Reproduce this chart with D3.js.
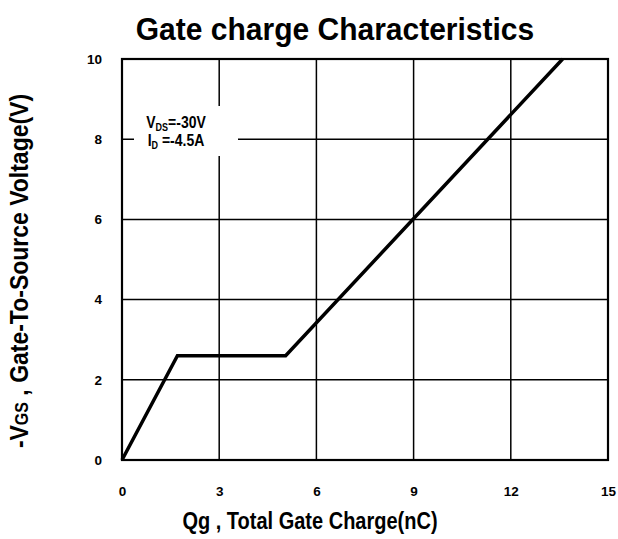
<!DOCTYPE html>
<html><head><meta charset="utf-8">
<script src="https://cdn.jsdelivr.net/npm/d3@7"></script>
<style>body{margin:0;background:#fff;}svg{display:block;font-family:"Liberation Sans",Arial,sans-serif;font-weight:bold;}</style>
</head><body>
<svg id="c" width="618" height="539"></svg>
<script>
const qg = [0, 1.71, 5.05, 13.6];
const vgs = [0, 2.6, 2.6, 10];
const xTicks = [0, 3, 6, 9, 12, 15];
const yTicks = [0, 2, 4, 6, 8, 10];

const svg = d3.select("#c");
const L = 122, R = 608, T = 59, B = 460;
const x = d3.scaleLinear().domain([0, 15]).range([L, R]);
const y = d3.scaleLinear().domain([0, 10]).range([B, T]);

// grid
const g = svg.append("g");
g.selectAll(".vx").data(xTicks.slice(1, -1)).enter().append("line")
  .attr("x1", d => x(d)).attr("x2", d => x(d)).attr("y1", T).attr("y2", B)
  .attr("stroke", "#000").attr("stroke-width", 1.5);
g.selectAll(".hy").data(yTicks.slice(1, -1)).enter().append("line")
  .attr("y1", d => y(d)).attr("y2", d => y(d)).attr("x1", L).attr("x2", R)
  .attr("stroke", "#000").attr("stroke-width", 1.5);

// annotation box
svg.append("rect").attr("x", 134).attr("y", 106).attr("width", 104).attr("height", 50).attr("fill", "#fff");
const a1 = svg.append("text").attr("transform", "translate(176,128) scale(1,1.12)").attr("text-anchor", "middle").attr("font-size", 14);
a1.append("tspan").text("V");
a1.append("tspan").text("DS").attr("font-size", 9).attr("dy", 3);
a1.append("tspan").text("=-30V").attr("dy", -3);
const a2 = svg.append("text").attr("transform", "translate(176,146) scale(1,1.12)").attr("text-anchor", "middle").attr("font-size", 14);
a2.append("tspan").text("I");
a2.append("tspan").text("D").attr("font-size", 9).attr("dy", 3);
a2.append("tspan").text(" =-4.5A").attr("dy", -3);

// frame
svg.append("rect").attr("x", L).attr("y", T).attr("width", R - L).attr("height", B - T)
  .attr("fill", "none").attr("stroke", "#000").attr("stroke-width", 2.2);

// curve
svg.append("path").datum(qg.map((d, i) => [d, vgs[i]]))
  .attr("d", d3.line().x(d => x(d[0])).y(d => y(d[1])))
  .attr("fill", "none").attr("stroke", "#000").attr("stroke-width", 3.5).attr("stroke-linejoin", "miter");

// axes (labels only)
const xa = svg.append("g").attr("transform", `translate(0,${B})`)
  .call(d3.axisBottom(x).tickValues(xTicks).tickSize(0).tickPadding(26));
const ya = svg.append("g").attr("transform", `translate(${L},0)`)
  .call(d3.axisLeft(y).tickValues(yTicks).tickSize(0).tickPadding(20));
[xa, ya].forEach(a => {
  a.select(".domain").remove();
  a.selectAll("text").attr("font-size", 13.5).attr("font-family", "Liberation Sans, Arial, sans-serif").attr("font-weight", "bold").attr("fill", "#000");
});

// titles
svg.append("text").attr("transform", "translate(335,40) scale(1,1.05)").attr("text-anchor", "middle").attr("font-size", 30).text("Gate charge Characteristics");
svg.append("text").attr("transform", "translate(310,529) scale(1,1.15)").attr("text-anchor", "middle").attr("font-size", 20).text("Qg , Total Gate Charge(nC)");
const yt = svg.append("text").attr("transform", "translate(28,271) rotate(-90) scale(1,1.1)").attr("text-anchor", "middle").attr("font-size", 23);
yt.append("tspan").text("-V");
yt.append("tspan").text("GS").attr("font-size", 16);
yt.append("tspan").text(" , Gate-To-Source Voltage(V)");
</script>
</body></html>
